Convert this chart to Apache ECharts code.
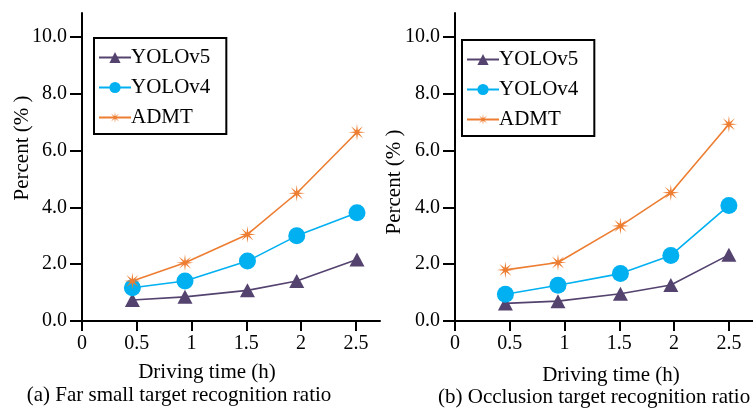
<!DOCTYPE html>
<html>
<head>
<meta charset="utf-8">
<script src="https://cdn.jsdelivr.net/npm/echarts@6/dist/echarts.min.js"></script>
<style>
  html, body { margin: 0; padding: 0; background: #fff; }
  #chart { width: 753px; height: 410px; }
</style>
</head>
<body>
<div id="chart"></div>
<script>
    // 数据
    var seriesNames = ['YOLOv5', 'YOLOv4', 'ADMT'];
    var timeFar = [0.46, 0.94, 1.51, 1.96, 2.51];
    var timeOcc = [0.46, 0.94, 1.51, 1.97, 2.50];
    var farV5 = [0.74, 0.85, 1.08, 1.41, 2.17];
    var farV4 = [1.17, 1.41, 2.11, 3.00, 3.81];
    var farADMT = [1.41, 2.05, 3.05, 4.50, 6.65];
    var occV5 = [0.62, 0.70, 0.96, 1.27, 2.33];
    var occV4 = [0.94, 1.26, 1.67, 2.31, 4.07];
    var occADMT = [1.80, 2.06, 3.35, 4.52, 6.93];
    var yTicks = [0, 2, 4, 6, 8, 10];
    var xTicks = [0, 0.5, 1, 1.5, 2, 2.5];

    var colors = ['#54426f', '#00b0f0', '#ed7d31'];
    var font = 'Liberation Serif';
    var textFont = '21px "Liberation Serif"';
    // 八角星
    var star = (function () {
        var pts = [];
        for (var i = 0; i < 16; i++) {
            var r = i % 2 === 0 ? 10 : 2.6;
            var a = Math.PI * i / 8 - Math.PI / 2;
            pts.push((10 + r * Math.cos(a)).toFixed(2) + ',' + (10 + r * Math.sin(a)).toFixed(2));
        }
        return 'path://M' + pts.join('L') + 'Z';
    })();
    var symbols = ['triangle', 'circle', star];
    var symbolSizes = [[15, 14], 17, 17];

    function pairs(xs, ys) {
        return ys.map(function (y, i) { return [xs[i], y]; });
    }

    function xAxisOf(idx) {
        return {
            type: 'value', gridIndex: idx, min: 0, max: 2.72,
            axisLine: { show: true, lineStyle: { color: '#000', width: 2 } },
            axisTick: { show: true, length: 10, inside: false, customValues: xTicks, lineStyle: { color: '#000', width: 2 } },
            axisLabel: { customValues: xTicks, margin: 13, color: '#000', fontFamily: font, fontSize: 20 },
            splitLine: { show: false }
        };
    }
    function yAxisOf(idx) {
        return {
            type: 'value', gridIndex: idx, min: 0, max: 10.85,
            axisLine: { show: true, lineStyle: { color: '#000', width: 2 } },
            axisTick: { show: true, length: 12, customValues: yTicks, lineStyle: { color: '#000', width: 2 } },
            axisLabel: {
                customValues: yTicks, margin: 15, color: '#000', fontFamily: font, fontSize: 20,
                formatter: function (v) { return v.toFixed(1); }
            },
            splitLine: { show: false }
        };
    }
    function legendOf(left, top) {
        return {
            data: seriesNames, orient: 'vertical', left: left, top: top,
            itemWidth: 32, itemHeight: 14, itemGap: 9,
            padding: [9, 16, 6, 4],
            borderColor: '#000', borderWidth: 2,
            textStyle: { color: '#000', fontFamily: font, fontSize: 21, padding: [0, 0, 0, -5] }
        };
    }
    function lineSeries(name, i, gi, xs, ys) {
        return {
            name: name, type: 'line', xAxisIndex: gi, yAxisIndex: gi,
            data: pairs(xs, ys),
            symbol: symbols[i], symbolSize: symbolSizes[i],
            lineStyle: { color: colors[i], width: 1.6 },
            itemStyle: { color: colors[i] },
            animation: false
        };
    }

    var chart = echarts.init(document.getElementById('chart'));
    var option = {
        animation: false,
        grid: [
            { left: 82, top: 13, width: 298, height: 308 },
            { left: 455, top: 13, width: 298, height: 308 }
        ],
        xAxis: [xAxisOf(0), xAxisOf(1)],
        yAxis: [yAxisOf(0), yAxisOf(1)],
        legend: [legendOf(94, 38), legendOf(462, 40)],
        series: [
            lineSeries('YOLOv5', 0, 0, timeFar, farV5),
            lineSeries('YOLOv4', 1, 0, timeFar, farV4),
            lineSeries('ADMT', 2, 0, timeFar, farADMT),
            lineSeries('YOLOv5', 0, 1, timeOcc, occV5),
            lineSeries('YOLOv4', 1, 1, timeOcc, occV4),
            lineSeries('ADMT', 2, 1, timeOcc, occADMT)
        ],
        graphic: [
            { type: 'text', x: 22, y: 148, rotation: Math.PI / 2, style: { text: 'Percent (% )', fill: '#000', font: textFont, align: 'center', verticalAlign: 'middle' } },
            { type: 'text', x: 394, y: 182, rotation: Math.PI / 2, style: { text: 'Percent (% )', fill: '#000', font: textFont, align: 'center', verticalAlign: 'middle' } },
            { type: 'text', x: 207, y: 372, style: { text: 'Driving time (h)', fill: '#000', font: textFont, align: 'center', verticalAlign: 'middle' } },
            { type: 'text', x: 611, y: 375, style: { text: 'Driving time (h)', fill: '#000', font: textFont, align: 'center', verticalAlign: 'middle' } },
            { type: 'text', x: 179, y: 395, style: { text: '(a) Far small target recognition ratio', fill: '#000', font: textFont, align: 'center', verticalAlign: 'middle' } },
            { type: 'text', x: 438, y: 397, style: { text: '(b) Occlusion target recognition ratio', fill: '#000', font: textFont, align: 'left', verticalAlign: 'middle' } }
        ]
    };
    chart.setOption(option);
</script>
</body>
</html>
